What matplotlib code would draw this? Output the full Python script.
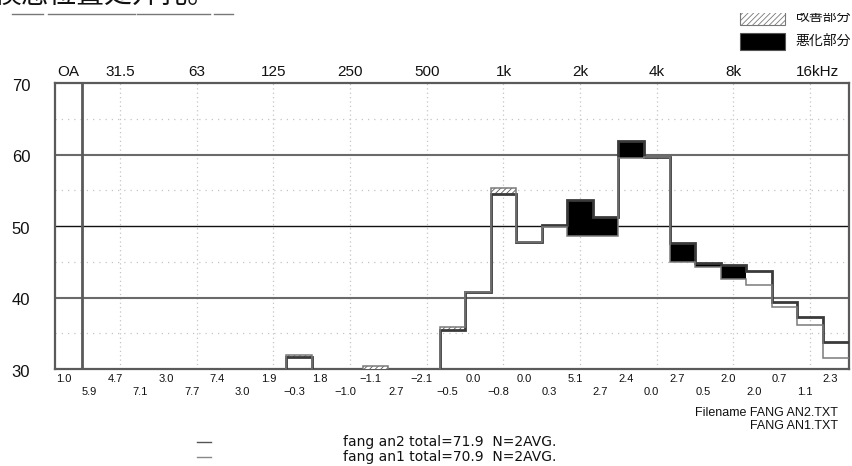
import matplotlib
matplotlib.use("Agg")
import matplotlib.pyplot as plt
import matplotlib.transforms as mtransforms
from matplotlib.patches import Rectangle
from matplotlib.lines import Line2D
import numpy as np

# ---------------- data ----------------
bands = ['25', '31.5', '40', '50', '63', '80', '100', '125', '160', '200',
         '250', '315', '400', '500', '630', '800', '1k', '1.25k', '1.6k', '2k',
         '2.5k', '3.15k', '4k', '5k', '6.3k', '8k', '10k', '12.5k', '16k', '20k']
an1 = [18.0, 19.5, 20.0, 21.0, 18.5, 19.0, 22.0, 24.5, 32.0, 26.0,
       27.5, 30.4, 25.0, 29.0, 35.9, 40.7, 55.3, 47.7, 49.9, 48.6,
       48.6, 59.5, 59.6, 44.9, 44.3, 42.6, 41.7, 38.7, 36.2, 31.5]
an2 = [23.9, 24.2, 27.1, 24.0, 26.2, 26.4, 25.0, 26.4, 31.7, 27.8,
       26.5, 29.3, 27.7, 26.9, 35.4, 40.7, 54.5, 47.7, 50.2, 53.7,
       51.3, 61.9, 59.6, 47.6, 44.8, 44.6, 43.7, 39.4, 37.3, 33.8]
diff_labels = [1.0, 5.9, 4.7, 7.1, 3.0, 7.7, 7.4, 3.0, 1.9, -0.3, 1.8, -1.0, -1.1,
               2.7, -2.1, -0.5, 0.0, -0.8, 0.0, 0.3, 5.1, 2.7, 2.4, 0.0, 2.7,
               0.5, 2.0, 2.0, 0.7, 1.1, 2.3]
top_labels = ['OA', '31.5', '63', '125', '250', '500', '1k', '2k', '4k', '8k', '16kHz']
top_label_bands = [None, '31.5', '63', '125', '250', '500', '1k', '2k', '4k', '8k', '16k']
y_ticks = [70, 60, 50, 40, 30]
eval_last_band = '8k'
total_an2 = 71.9
total_an1 = 70.9

# ---------------- figure ----------------
W, H = 852, 466
fig = plt.figure(figsize=(W / 100, H / 100), dpi=100)
plt.rcParams['hatch.linewidth'] = 0.6


def fx(x):
    return x / W


def fy(y):
    return 1 - y / H


left_px, right_px, top_px, bot_px = 55, 849, 83, 369
ax = fig.add_axes([fx(left_px), fy(bot_px), (right_px - left_px) / W, (bot_px - top_px) / H])
band_px = 25.56
oa_div_px = 81.7
ax.set_xlim(-(oa_div_px - left_px) / band_px, 30 + (right_px - (oa_div_px + 30 * band_px)) / band_px)
ax.set_ylim(30, 70)
ax.set_xticks([])
ax.set_yticks([])
for sp in ax.spines.values():
    sp.set_color('#5a5a5a')
    sp.set_linewidth(1.6)

n = len(bands)
edges = np.arange(n + 1)
a1 = np.array(an1)
a2 = np.array(an2)

# grid
grid_c = '#c4c4c4'
for lab in top_label_bands[1:]:
    xc = bands.index(lab) + 0.5
    ax.axvline(xc, color=grid_c, lw=0.9, ls=(0, (1, 2.5)), zorder=1)
for yv in [35, 45, 55, 65]:
    ax.axhline(yv, color=grid_c, lw=0.9, ls=(0, (1, 4)), zorder=1)
ax.axhline(60, color='#6a6a6a', lw=1.5, zorder=2)
ax.axhline(40, color='#6a6a6a', lw=1.5, zorder=2)
ax.axhline(50, color='#111111', lw=1.0, zorder=2)
ax.axvline(0, color='#5a5a5a', lw=2.0, zorder=2)

# difference fills
last = bands.index(eval_last_band)
for i in range(n):
    lo, hi = min(a1[i], a2[i]), max(a1[i], a2[i])
    if hi - lo <= 0:
        continue
    if a2[i] < a1[i]:
        ax.bar(i, hi - lo, bottom=lo, width=1, align='edge', facecolor='white',
               edgecolor='#555555', hatch='//////', linewidth=0, zorder=3)
    elif i <= last:
        ax.bar(i, hi - lo, bottom=lo, width=1, align='edge', color='black',
               linewidth=0, zorder=3)

# step curves
ax.stairs(a2, edges, baseline=None, color='#3a3a3a', lw=2.0, zorder=4)
ax.stairs(a1, edges, baseline=None, color='#7a7a7a', lw=1.1, zorder=5)

# top labels
tr_top = mtransforms.blended_transform_factory(ax.transData, ax.transAxes)
for lab, b in zip(top_labels, top_label_bands):
    if b is None:
        xc = -0.52
    else:
        xc = bands.index(b) + 0.5
    if lab.endswith('Hz'):
        xc += 0.28
    ax.text(xc, 1.038, lab, transform=tr_top, ha='center', va='center',
            fontsize=11, family='Liberation Sans', color='#111111')

# y labels
tr_y = mtransforms.blended_transform_factory(ax.transAxes, ax.transData) + \
    mtransforms.ScaledTranslation(0, 3 / 72, fig.dpi_scale_trans)
for yv in y_ticks:
    ax.text((21 - left_px) / (right_px - left_px), yv, str(yv), transform=tr_y,
            ha='center', va='top', fontsize=12, family='Liberation Sans', color='#111111')

# difference labels
for k, v in enumerate(diff_labels):
    xc = (k - 1) + 0.5 - 0.2
    if k == 0:
        xc = -0.52 - 0.2
    yrow = -0.035 if k % 2 == 0 else -0.081
    s = f"{v:.1f}".replace('-', '\u2212')
    ax.text(xc, yrow, s, transform=tr_top, ha='center', va='center',
            fontsize=8, family='Liberation Sans', color='#111111')

# filename texts
fig.text(fx(838), fy(413), 'Filename FANG AN2.TXT', ha='right', va='center',
         fontsize=9, family='Liberation Sans', color='#111111')
fig.text(fx(838), fy(426), 'FANG AN1.TXT', ha='right', va='center',
         fontsize=9, family='Liberation Sans', color='#111111')

# bottom legend
fig.add_artist(Line2D([fx(197), fx(211)], [fy(442), fy(442)], color='#555555', lw=1.0))
fig.add_artist(Line2D([fx(197), fx(211)], [fy(457), fy(457)], color='#888888', lw=1.0))
fig.text(fx(343), fy(442), f'fang an2 total={total_an2:.1f}  N=2AVG.', ha='left', va='center',
         fontsize=10, family='DejaVu Sans', color='#111111')
fig.text(fx(343), fy(457), f'fang an1 total={total_an1:.1f}  N=2AVG.', ha='left', va='center',
         fontsize=10, family='DejaVu Sans', color='#111111')

# top-right legend
fig.add_artist(Rectangle((fx(740), fy(25)), (785 - 740) / W, 17 / H, transform=fig.transFigure,
                         facecolor='white', edgecolor='#777777', hatch='//////', lw=0.8))
fig.add_artist(Rectangle((fx(740), fy(50)), (785 - 740) / W, 17 / H, transform=fig.transFigure,
                         facecolor='black', edgecolor='#555555', lw=0.8))
fig.text(fx(795), fy(17), '改善部分', ha='left', va='center', fontsize=10,
         family=['Noto Sans CJK JP', 'DejaVu Sans'], color='#111111')
fig.text(fx(795), fy(41), '悪化部分', ha='left', va='center', fontsize=10,
         family=['Noto Sans CJK JP', 'DejaVu Sans'], color='#111111')
# the source image is cut off above this line on the right side
fig.add_artist(Rectangle((fx(700), fy(13)), (W - 700) / W, 13 / H, transform=fig.transFigure,
                         facecolor='white', edgecolor='none', zorder=10))

# cut-off document text at top-left
fig.text(fx(-7), fy(10), '模态位置处开孔。', ha='left', va='bottom', fontsize=20,
         family=['Noto Sans CJK SC', 'DejaVu Sans'], color='#111111')
for x0, x1 in [(12, 43), (48, 135), (137, 210), (214, 233)]:
    fig.add_artist(Line2D([fx(x0), fx(x1)], [fy(14), fy(14)], color='#777777', lw=1.0))

fig.savefig('out.png', dpi=100)
